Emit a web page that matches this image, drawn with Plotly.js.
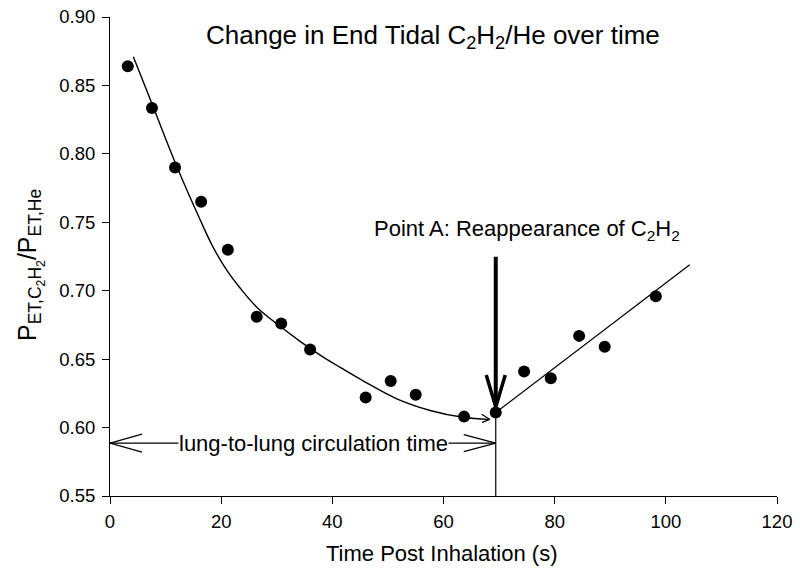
<!DOCTYPE html>
<html>
<head>
<meta charset="utf-8">
<script src="https://cdn.plot.ly/plotly-3.0.1.min.js"></script>
<style>html,body{margin:0;padding:0;background:#fff;}#chart{width:800px;height:583px;}</style>
</head>
<body>
<div id="chart"></div>
<script>
// Measured data points (time s, ratio)
var timeS = [3.2, 7.55, 11.7, 16.4, 21.2, 26.4, 30.8, 36.0, 46.0, 50.5, 55.0, 63.7, 69.4, 74.5, 79.3, 84.4, 89.0, 98.2];
var ratio = [0.864, 0.8335, 0.790, 0.765, 0.730, 0.681, 0.676, 0.657, 0.622, 0.634, 0.624, 0.608, 0.611, 0.641, 0.636, 0.667, 0.659, 0.696];

// Fitted decay curve
var fitX = [4.2, 7.8, 12.0, 16.2, 18.4, 21.0, 23.4, 26.4, 30.6, 34.2, 37.8, 41.4, 45.6, 51.6, 57.6, 63.5, 68.3];
var fitY = [0.871, 0.834, 0.791, 0.752, 0.733, 0.715, 0.702, 0.688, 0.674, 0.663, 0.653, 0.644, 0.634, 0.621, 0.6125, 0.6075, 0.606];

// Linear rise after point A
var riseX = [69.4, 104.3];
var riseY = [0.611, 0.719];

// Axis ticks
var xTicks = [0, 20, 40, 60, 80, 100, 120];
var yTicks = [0.55, 0.60, 0.65, 0.70, 0.75, 0.80, 0.85, 0.90];

// Annotation anchors
var pointA = {x: 69.4, y: 0.611};
var circY = 0.5886;
var arrowTopY = 0.7248;
var arrowTipY = 0.6151;

var X0 = 0, X1 = 120, Y0 = 0.55, Y1 = 0.90;
var W = 800, H = 583, mL = 110, mR = 23, mT = 17, mB = 87;
var pw = W - mL - mR, ph = H - mT - mB;
function dx(px){ return px * (X1 - X0) / pw; }
function dy(px){ return px * (Y1 - Y0) / ph; }

var font = 'Arial, "Liberation Sans", Helvetica, sans-serif';

var traces = [
  {x: fitX, y: fitY, mode: 'lines', line: {color: '#000', width: 1.4, shape: 'spline', smoothing: 1}, hoverinfo: 'skip'},
  {x: riseX, y: riseY, mode: 'lines', line: {color: '#000', width: 1.2}, hoverinfo: 'skip'},
  {x: timeS, y: ratio, mode: 'markers', marker: {color: '#000', size: 12}}
];

function seg(x0, y0, x1, y1, w){
  return {type: 'line', xref: 'x', yref: 'y', x0: x0, y0: y0, x1: x1, y1: y1, line: {color: '#000', width: w}, layer: 'above'};
}

var tipEnd = {x: fitX[fitX.length - 1], y: fitY[fitY.length - 1]};
var shapes = [
  // thin vertical from point A to axis
  seg(pointA.x, Y0, pointA.x, pointA.y, 1.2),
  // double arrow line
  seg(0, circY, pointA.x, circY, 1.2),
  seg(0, circY, dx(32), circY + dy(9), 1.2),
  seg(0, circY, dx(32), circY - dy(9), 1.2),
  seg(pointA.x, circY, pointA.x - dx(32), circY + dy(8.5), 1.2),
  seg(pointA.x, circY, pointA.x - dx(32), circY - dy(8.5), 1.2),
  // thick arrow
  seg(pointA.x, arrowTopY, pointA.x, arrowTipY + dy(3), 4),
  seg(pointA.x, arrowTipY, pointA.x - dx(9.5), arrowTipY + dy(32), 3.5),
  seg(pointA.x, arrowTipY, pointA.x + dx(9.5), arrowTipY + dy(32), 3.5),
  // small arrowhead at end of curve
  seg(tipEnd.x, tipEnd.y, tipEnd.x - dx(8), tipEnd.y + dy(5), 1.2),
  seg(tipEnd.x, tipEnd.y, tipEnd.x - dx(7.5), tipEnd.y - dy(3), 1.2)
];

var annotations = [
  {xref: 'paper', yref: 'paper', x: (433 - mL) / pw, y: (H - mB - 36) / ph, xanchor: 'center', yanchor: 'middle',
   text: 'Change in End Tidal C<sub>2</sub>H<sub>2</sub>/He over time', showarrow: false, font: {family: font, size: 26, color: '#000'}},
  {xref: 'x', yref: 'y', x: 75.0, y: Y1 - dy(230 - mT), xanchor: 'center', yanchor: 'middle',
   text: 'Point A: Reappearance of C<sub>2</sub>H<sub>2</sub>', showarrow: false, font: {family: font, size: 22, color: '#000'}},
  {xref: 'x', yref: 'y', x: 36.6, y: circY, xanchor: 'center', yanchor: 'middle',
   text: 'lung-to-lung circulation time', showarrow: false, bgcolor: '#fff', borderpad: 0,
   font: {family: font, size: 22, color: '#000'}},
  {xref: 'paper', yref: 'paper', x: (442 - mL) / pw, y: (H - mB - 553) / ph, xanchor: 'center', yanchor: 'middle',
   text: 'Time Post Inhalation (s)', showarrow: false, font: {family: font, size: 22, color: '#000'}},
  {xref: 'paper', yref: 'paper', x: (30 - mL) / pw, y: (H - mB - 265) / ph, xanchor: 'center', yanchor: 'middle', textangle: -90,
   text: 'P<sub>ET,C<sub>2</sub>H<sub>2</sub></sub>/P<sub>ET,He</sub>', showarrow: false, font: {family: font, size: 25, color: '#000'}}
];

var layout = {
  width: W, height: H,
  margin: {l: mL, r: mR, t: mT, b: mB, pad: 0},
  paper_bgcolor: '#fff', plot_bgcolor: '#fff',
  showlegend: false,
  font: {family: font, color: '#000'},
  xaxis: {range: [X0, X1], tickvals: xTicks, ticktext: xTicks.map(String), showline: true, linecolor: '#000', linewidth: 1,
          ticks: 'outside', ticklen: 7, tickcolor: '#000', showgrid: false, zeroline: false, ticklabelstandoff: 2,
          tickfont: {family: font, size: 18.5, color: '#000'}, fixedrange: true},
  yaxis: {range: [Y0, Y1], tickvals: yTicks, ticktext: yTicks.map(function(v){return v.toFixed(2);}), showline: true, linecolor: '#000', linewidth: 1,
          ticks: 'outside', ticklen: 7, tickcolor: '#000', showgrid: false, zeroline: false, ticklabelstandoff: 3,
          tickfont: {family: font, size: 18.5, color: '#000'}, fixedrange: true},
  shapes: shapes,
  annotations: annotations
};

Plotly.newPlot('chart', traces, layout, {displayModeBar: false, staticPlot: true});
</script>
</body>
</html>
